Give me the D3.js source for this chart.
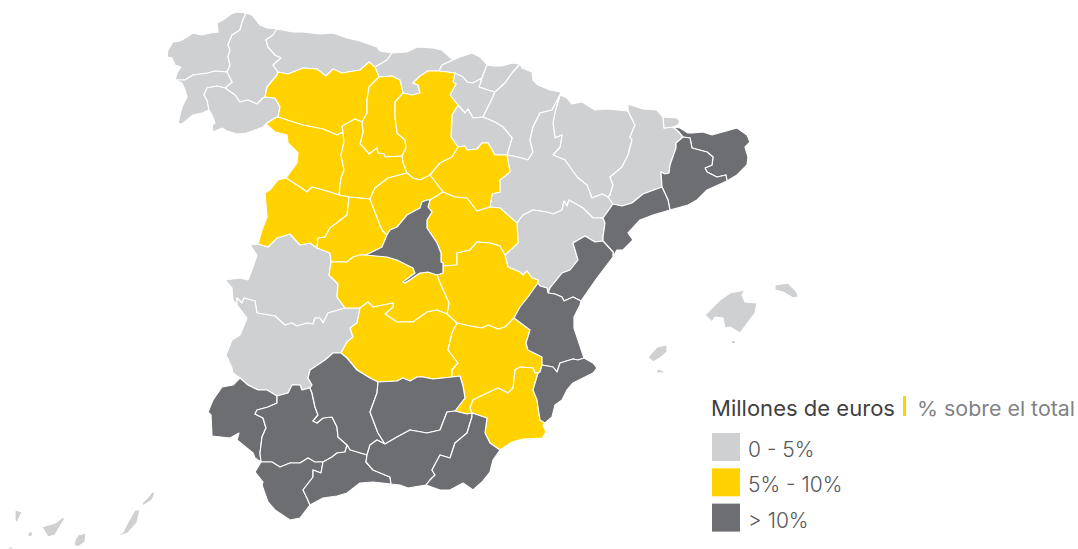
<!DOCTYPE html>
<html><head><meta charset="utf-8">
<script src="https://cdnjs.cloudflare.com/ajax/libs/d3/7.8.5/d3.min.js"></script>
<style>html,body{margin:0;padding:0;background:#fff}svg{display:block}</style>
</head><body><svg id="c" width="1078" height="549"></svg>
<script>
const bandLabels = ["0 - 5%", "5% - 10%", "> 10%"];
const bandColors = ["#cfd0d2", "#ffd200", "#6d6e71"];
const legendTitle = "Millones de euros";
const legendSubtitle = "% sobre el total";

const provinceNames = ["A Coruña","Lugo","Pontevedra","Ourense","Asturias","Cantabria","Bizkaia","Gipuzkoa","Álava","Navarra","La Rioja","Huesca","Zaragoza","Teruel","Lleida","Andorra","Cáceres","Badajoz","Mallorca","Cabrera","Menorca","Ibiza","Formentera","La Palma","El Hierro","La Gomera","Tenerife","Gran Canaria","Fuerteventura","Lanzarote",
"León","Palencia","Burgos","Zamora","Valladolid","Soria","Salamanca","Ávila","Segovia","Guadalajara","Cuenca","Toledo","Ciudad Real","Albacete","Murcia",
"Girona","Barcelona","Tarragona","Castellón","Valencia","Alicante","Madrid","Huelva","Sevilla","Córdoba","Jaén","Cádiz","Málaga","Granada","Almería"];
const provinceBands = [0,0,0,0,0,0,0,0,0,0,0,0,0,0,0,0,0,0,0,0,0,0,0,0,0,0,0,0,0,0,
1,1,1,1,1,1,1,1,1,1,1,1,1,1,1,
2,2,2,2,2,2,2,2,2,2,2,2,2,2,2];
const provinceOutlines = [
/*Coruña*/[[246,13],[237,12],[231,14],[223,20],[217,23],[218,32],[210,33],[202,35],[193,33],[187,37],[180,41],[173,42],[168,50],[167,57],[172,58],[175,65],[181,67],[177,73],[175,80],[185,80],[193,75],[208,73],[215,71],[227,72],[230,65],[228,57],[230,50],[228,45],[232,35],[240,30],[242,22]],
/*Lugo*/[[246,13],[252,15],[260,25],[267,28],[277,29],[273,35],[266,40],[268,47],[275,55],[281,58],[273,65],[278,72],[277,75],[267,87],[265,97],[263,98],[257,104],[248,100],[240,102],[235,95],[225,88],[232,82],[227,72],[230,65],[228,57],[230,50],[228,45],[232,35],[240,30],[242,22]],
/*Pontevedra*/[[175,80],[182,83],[185,90],[187,97],[182,107],[178,123],[182,124],[193,115],[202,113],[209,110],[207,100],[204,95],[207,88],[217,86],[225,88],[232,82],[227,72],[215,71],[208,73],[193,75],[185,80]],
/*Ourense*/[[209,110],[212,115],[215,123],[212,125],[213,132],[222,128],[227,131],[237,134],[247,133],[255,130],[263,127],[267,123],[275,118],[278,117],[280,107],[275,98],[265,97],[263,98],[257,104],[248,100],[240,102],[235,95],[225,88],[217,86],[207,88],[204,95],[207,100]],
/*Asturias*/[[277,29],[293,32],[303,32],[320,34],[333,33],[347,38],[360,41],[377,47],[380,51],[392,53],[387,60],[382,63],[375,67],[369,62],[360,70],[342,73],[333,69],[326,76],[317,69],[303,68],[288,74],[278,72],[273,65],[281,58],[275,55],[268,47],[266,40],[273,35]],
/*Cantabria*/[[392,53],[407,52],[417,47],[433,48],[442,50],[453,60],[442,65],[439,71],[428,71],[420,76],[413,83],[418,85],[420,93],[412,95],[403,93],[400,80],[392,76],[379,77],[375,67],[382,63],[387,60]],
/*Bizkaia*/[[453,60],[460,57],[472,53],[480,57],[485,62],[487,65],[482,78],[473,83],[467,82],[463,77],[455,73],[439,71],[442,65]],
/*Gipuzkoa*/[[487,65],[493,66],[502,66],[512,63],[520,64],[512,73],[505,83],[495,92],[488,90],[479,87],[482,78]],
/*Álava*/[[455,73],[463,77],[467,82],[473,83],[482,78],[479,87],[488,90],[495,92],[490,103],[483,117],[473,118],[468,109],[465,113],[458,105],[450,95],[456,84],[453,82]],
/*Navarra*/[[520,64],[522,68],[532,72],[533,80],[538,85],[550,90],[561,92],[560,95],[552,110],[540,113],[533,127],[530,140],[533,152],[528,160],[518,157],[507,155],[512,138],[503,127],[495,122],[483,117],[490,103],[495,92],[505,83],[512,73]],
/*La Rioja*/[[458,105],[465,113],[468,109],[473,118],[483,117],[495,122],[503,127],[512,138],[507,155],[495,155],[488,143],[482,143],[477,149],[467,150],[465,146],[458,147],[451,137],[452,115]],
/*Huesca*/[[560,95],[567,98],[572,104],[582,102],[595,110],[608,109],[628,111],[635,125],[630,137],[632,140],[628,155],[622,167],[610,177],[613,185],[610,195],[608,197],[602,194],[592,198],[587,185],[577,177],[565,160],[553,155],[560,147],[562,135],[555,138],[553,123],[555,112]],
/*Zaragoza*/[[560,95],[555,112],[553,123],[555,138],[562,135],[560,147],[553,155],[565,160],[577,177],[587,185],[592,198],[602,194],[608,197],[613,204],[603,218],[593,218],[583,208],[569,200],[567,206],[564,201],[562,210],[553,214],[547,212],[533,210],[523,215],[517,223],[500,208],[490,207],[492,194],[500,192],[500,180],[510,172],[507,155],[518,157],[528,160],[533,152],[530,140],[533,127],[540,113],[552,110]],
/*Teruel*/[[517,223],[523,215],[533,210],[547,212],[553,214],[562,210],[564,201],[567,206],[569,200],[583,208],[593,218],[603,218],[605,223],[603,237],[603,241],[595,242],[585,236],[573,243],[578,260],[570,270],[562,273],[550,288],[548,293],[547,288],[540,286],[538,283],[538,280],[532,278],[527,271],[523,275],[520,272],[508,267],[505,255],[518,243]],
/*Lleida*/[[628,111],[628,104],[643,109],[657,110],[663,117],[664,128],[673,127],[678,131],[683,137],[676,143],[676,148],[670,165],[669,173],[665,174],[661,172],[662,187],[643,194],[632,203],[622,206],[613,204],[608,197],[610,195],[613,185],[610,177],[622,167],[628,155],[632,140],[630,137],[635,125]],
/*Andorra*/[[663,117],[677,118],[680,121],[678,125],[673,127],[664,128]],
/*Cáceres*/[[258,244],[250,245],[257,255],[253,267],[248,280],[240,278],[225,280],[232,288],[233,300],[237,305],[237,298],[242,303],[244,298],[255,301],[257,313],[275,316],[285,325],[292,323],[297,326],[307,323],[313,324],[315,318],[320,318],[323,323],[328,313],[345,308],[337,297],[338,284],[329,275],[331,262],[330,253],[317,248],[310,243],[300,245],[290,234],[277,238],[268,247]],
/*Badajoz*/[[237,305],[247,318],[240,335],[232,340],[226,355],[232,368],[233,373],[240,378],[248,385],[258,390],[267,390],[277,396],[288,393],[292,385],[300,385],[302,390],[310,388],[312,385],[308,378],[310,370],[325,360],[333,353],[341,353],[347,342],[353,337],[350,328],[357,323],[360,308],[345,308],[328,313],[323,323],[320,318],[315,318],[313,324],[307,323],[297,326],[292,323],[285,325],[275,316],[257,313],[255,301],[244,298],[242,303],[237,298]],
/*Mallorca*/[[705,315],[720,300],[730,293],[745,290],[742,295],[745,302],[757,303],[755,313],[740,333],[730,327],[725,328],[723,318],[715,317],[712,322]],
/*Cabrera*/[[732,341],[735,341],[735,343],[732,343]],
/*Menorca*/[[775,285],[788,283],[797,292],[798,297],[793,298],[783,292],[775,290]],
/*Ibiza*/[[648,357],[657,347],[667,345],[667,352],[660,358],[653,362]],
/*Formentera*/[[657,370],[660,369],[666,373],[660,373],[656,373]],
/*La Palma*/[[15,510],[22,512],[17,523],[15,520]],
/*El Hierro*/[[8,547],[13,547],[13,549],[8,549]],
/*La Gomera*/[[28,533],[31,531],[33,534],[31,537],[28,536]],
/*Tenerife*/[[42,527],[55,523],[63,517],[65,518],[55,535],[48,537]],
/*Gran Canaria*/[[75,540],[78,535],[86,533],[85,542],[78,547],[74,545]],
/*Fuerteventura*/[[116,537],[123,532],[128,522],[135,510],[140,510],[137,523],[128,533]],
/*Lanzarote*/[[142,503],[147,498],[152,492],[155,493],[152,500],[143,506]],
/*León*/[[278,72],[288,74],[303,68],[317,69],[326,76],[333,69],[342,73],[360,70],[369,62],[375,67],[379,77],[369,87],[367,100],[367,113],[362,122],[355,119],[342,126],[343,132],[337,135],[323,129],[303,125],[290,121],[278,117],[280,107],[275,98],[265,97],[267,87],[277,75]],
/*Palencia*/[[379,77],[392,76],[400,80],[403,93],[395,102],[395,117],[397,133],[405,140],[406,148],[402,156],[385,157],[384,154],[378,153],[377,148],[369,154],[363,147],[360,144],[363,132],[362,122],[367,113],[367,100],[369,87]],
/*Burgos*/[[403,93],[412,95],[420,93],[418,85],[413,83],[420,76],[428,71],[439,71],[455,73],[453,82],[456,84],[450,95],[458,105],[452,115],[451,137],[458,147],[452,157],[440,163],[430,175],[420,180],[413,178],[407,173],[403,163],[402,156],[406,148],[405,140],[397,133],[395,117],[395,102]],
/*Zamora*/[[275,118],[278,117],[290,121],[303,125],[323,129],[337,135],[343,132],[344,142],[341,155],[344,170],[341,178],[339,195],[330,192],[312,187],[307,192],[300,187],[286,178],[297,163],[298,153],[288,143],[287,135],[275,132],[266,124]],
/*Valladolid*/[[362,122],[363,132],[360,144],[363,147],[369,154],[377,148],[378,153],[384,154],[385,157],[402,156],[403,163],[407,173],[388,178],[375,188],[370,199],[349,197],[339,195],[341,178],[344,170],[341,155],[344,142],[343,132],[342,126],[355,119]],
/*Soria*/[[458,147],[465,146],[467,150],[477,149],[482,143],[488,143],[495,155],[507,155],[510,172],[500,180],[500,192],[492,194],[490,207],[477,211],[467,198],[455,197],[443,192],[430,175],[440,163],[452,157]],
/*Salamanca*/[[286,178],[300,187],[307,192],[312,187],[330,192],[339,195],[349,197],[347,215],[330,228],[325,237],[318,238],[317,248],[310,243],[300,245],[290,234],[277,238],[268,247],[258,244],[262,230],[267,217],[265,193],[270,190],[278,180]],
/*Ávila*/[[349,197],[370,199],[378,220],[382,230],[387,235],[382,247],[370,253],[365,255],[360,255],[353,257],[347,262],[340,262],[331,262],[330,253],[317,248],[318,238],[325,237],[330,228],[347,215]],
/*Segovia*/[[370,199],[375,188],[388,178],[407,173],[413,178],[420,180],[430,175],[443,192],[430,200],[427,200],[422,202],[420,208],[407,215],[397,227],[390,230],[387,235],[382,230],[378,220]],
/*Guadalajara*/[[430,200],[443,192],[455,197],[467,198],[477,211],[490,207],[500,208],[517,223],[518,243],[505,255],[500,246],[490,243],[477,242],[470,250],[457,253],[457,265],[443,266],[443,263],[441,262],[441,253],[437,243],[427,228],[427,220],[432,212],[428,207]],
/*Cuenca*/[[443,266],[457,265],[457,253],[470,250],[477,242],[490,243],[500,246],[505,255],[508,267],[520,272],[523,275],[527,271],[532,278],[538,280],[538,283],[528,297],[520,307],[514,318],[505,327],[498,329],[488,325],[482,328],[470,326],[457,323],[447,314],[449,303],[440,283],[437,275],[443,273]],
/*Toledo*/[[331,262],[340,262],[347,262],[353,257],[360,255],[365,255],[387,257],[397,260],[413,268],[415,273],[403,282],[405,283],[420,273],[428,272],[437,275],[440,283],[449,303],[447,314],[437,310],[427,312],[413,322],[397,322],[385,314],[393,307],[393,303],[383,305],[373,307],[368,302],[360,308],[345,308],[337,297],[338,284],[329,275]],
/*Ciudad Real*/[[360,308],[368,302],[373,307],[383,305],[393,303],[393,307],[385,314],[397,322],[413,322],[427,312],[437,310],[447,314],[457,323],[452,333],[448,350],[458,363],[452,370],[452,377],[433,379],[423,377],[417,377],[410,381],[403,378],[397,381],[378,382],[370,378],[357,370],[347,358],[341,353],[347,342],[353,337],[350,328],[357,323]],
/*Albacete*/[[514,318],[505,327],[498,329],[488,325],[482,328],[470,326],[457,323],[452,333],[448,350],[458,363],[452,370],[452,377],[460,376],[463,386],[465,398],[455,411],[467,414],[472,413],[470,408],[473,400],[483,395],[498,388],[508,393],[513,388],[515,370],[520,367],[533,368],[535,373],[540,372],[542,365],[542,357],[528,350],[526,343],[530,330]],
/*Murcia*/[[472,413],[487,418],[485,433],[490,443],[500,450],[512,442],[523,439],[542,438],[546,432],[543,425],[545,423],[540,420],[537,400],[533,390],[538,373],[535,373],[533,368],[520,367],[515,370],[513,388],[508,393],[498,388],[483,395],[473,400],[470,408]],
/*Girona*/[[673,127],[680,128],[688,133],[693,133],[703,132],[712,135],[737,128],[747,135],[750,142],[745,147],[748,157],[747,165],[737,175],[727,181],[726,175],[717,177],[707,172],[705,168],[712,165],[713,157],[707,152],[692,148],[690,138],[683,137],[678,131]],
/*Barcelona*/[[662,187],[661,172],[665,174],[669,173],[670,165],[676,148],[676,143],[683,137],[690,138],[692,148],[707,152],[713,157],[712,165],[705,168],[707,172],[717,177],[726,175],[727,181],[707,190],[697,200],[688,205],[670,210],[668,200]],
/*Tarragona*/[[613,204],[622,206],[632,203],[643,194],[662,187],[668,200],[670,210],[653,215],[640,220],[628,233],[633,240],[623,250],[617,250],[613,257],[613,252],[603,241],[603,237],[605,223],[603,218]],
/*Castellón*/[[548,293],[555,294],[562,297],[564,301],[573,297],[581,301],[597,278],[613,257],[613,252],[603,241],[595,242],[585,236],[573,243],[578,260],[570,270],[562,273],[550,288]],
/*Valencia*/[[538,283],[540,286],[547,288],[548,293],[555,294],[562,297],[564,301],[573,297],[581,301],[580,305],[574,317],[574,328],[578,340],[584,358],[578,360],[573,359],[560,363],[557,372],[553,367],[542,365],[542,357],[528,350],[526,343],[530,330],[514,318],[520,307],[528,297]],
/*Alicante*/[[542,365],[553,367],[557,372],[560,363],[573,359],[578,360],[584,358],[593,363],[597,368],[593,373],[573,383],[567,390],[562,400],[555,405],[552,417],[545,423],[540,420],[537,400],[533,390],[538,373],[540,372]],
/*Madrid*/[[422,202],[427,200],[430,200],[428,207],[432,212],[427,220],[427,228],[437,243],[441,253],[441,262],[443,263],[443,273],[437,275],[428,272],[420,273],[405,283],[403,282],[415,273],[413,268],[397,260],[387,257],[365,255],[370,253],[382,247],[387,235],[390,230],[397,227],[407,215],[420,208]],
/*Huelva*/[[240,378],[248,385],[258,390],[267,390],[277,396],[277,403],[268,407],[257,410],[255,414],[263,418],[266,428],[262,437],[260,453],[261,462],[255,458],[253,453],[237,440],[239,433],[230,438],[212,436],[211,415],[208,412],[213,400],[222,387],[233,385]],
/*Sevilla*/[[277,396],[288,393],[292,385],[300,385],[302,390],[310,388],[312,393],[315,407],[318,415],[313,421],[317,423],[323,418],[332,417],[337,427],[338,437],[347,445],[345,452],[337,453],[332,457],[323,462],[315,462],[308,458],[300,463],[290,463],[280,467],[272,462],[261,462],[260,453],[262,437],[266,428],[263,418],[255,414],[257,410],[268,407],[277,403]],
/*Córdoba*/[[333,353],[341,353],[347,358],[357,370],[370,378],[378,382],[377,393],[370,412],[378,433],[385,444],[377,440],[370,445],[367,455],[350,450],[347,445],[338,437],[337,427],[332,417],[323,418],[317,423],[313,421],[318,415],[315,407],[312,393],[310,388],[312,385],[308,378],[310,370],[325,360]],
/*Jaén*/[[378,382],[397,381],[403,378],[410,381],[417,377],[423,377],[433,379],[452,377],[460,376],[463,386],[465,398],[455,411],[447,412],[440,430],[427,433],[410,430],[397,437],[385,444],[378,433],[370,412],[377,393]],
/*Cádiz*/[[261,462],[272,462],[280,467],[290,463],[300,463],[308,458],[315,462],[323,462],[321,473],[313,470],[313,477],[303,490],[307,498],[310,505],[300,518],[290,520],[275,510],[268,502],[262,485],[263,482],[255,472]],
/*Málaga*/[[323,462],[332,457],[337,453],[345,452],[347,445],[350,450],[367,455],[366,462],[373,470],[390,477],[391,484],[373,482],[360,483],[347,493],[337,496],[323,498],[310,505],[307,498],[303,490],[313,477],[313,470],[321,473]],
/*Granada*/[[385,444],[397,437],[410,430],[427,433],[440,430],[447,412],[455,411],[467,414],[472,413],[472,417],[470,423],[467,433],[455,443],[450,458],[440,455],[432,470],[435,475],[430,480],[426,485],[408,488],[400,485],[391,484],[390,477],[373,470],[366,462],[367,455],[370,445],[377,440]],
/*Almería*/[[472,413],[487,418],[485,433],[490,443],[500,450],[493,460],[490,472],[482,482],[473,490],[463,483],[450,490],[440,490],[426,485],[430,480],[435,475],[432,470],[440,455],[450,458],[455,443],[467,433],[470,423],[472,417]]
];

const features = provinceNames.map((name,i)=>({type:"Feature",properties:{name,band:provinceBands[i]},
  geometry:{type:"Polygon",coordinates:[provinceOutlines[i].concat([provinceOutlines[i][0]])]}}));

const svg = d3.select("#c");
const color = d3.scaleOrdinal().domain([0,1,2]).range(bandColors);
const path = d3.geoPath(d3.geoIdentity());

svg.append("g").selectAll("path").data(features).join("path")
  .attr("d",path).attr("fill",d=>color(d.properties.band))
  .attr("stroke",d=>d.properties.name==="Cabrera"?"none":"#fff").attr("stroke-width",1.2).attr("stroke-linejoin","round")
  .append("title").text(d=>d.properties.name);

const lg = svg.append("g").style("font-family","Inter, Lato, sans-serif");
lg.append("text").attr("x",711).attr("y",416).attr("font-size",21.5).attr("fill","#3f3f42").text(legendTitle)
  .attr("textLength",184).attr("lengthAdjust","spacingAndGlyphs");
lg.append("rect").attr("x",903).attr("y",396).attr("width",3).attr("height",20).attr("fill",bandColors[1]);
lg.append("text").attr("x",917).attr("y",416).attr("font-size",20.5).attr("fill","#808285").text(legendSubtitle)
  .attr("textLength",158).attr("lengthAdjust","spacingAndGlyphs");
const rows = lg.selectAll("g.row").data(bandLabels).join("g").attr("class","row");
rows.append("rect").attr("x",712).attr("y",(d,i)=>433+i*35.3).attr("width",28).attr("height",28).attr("fill",(d,i)=>bandColors[i]);
rows.append("text").attr("x",748).attr("y",(d,i)=>457+i*35.4).attr("font-size",21).attr("font-weight",300).attr("fill","#58595b").text(d=>d);
</script></body></html>
